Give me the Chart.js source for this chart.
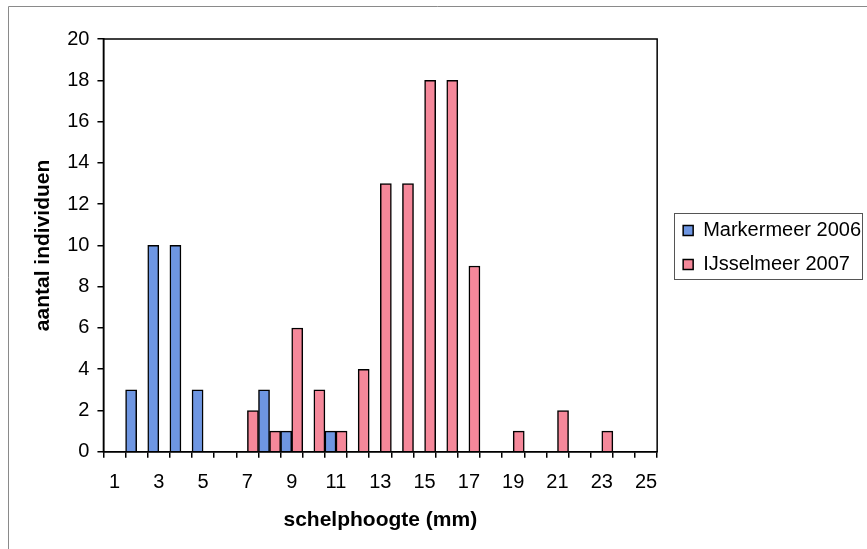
<!DOCTYPE html>
<html>
<head>
<meta charset="utf-8">
<script src="https://cdn.jsdelivr.net/npm/chart.js@4.4.1/dist/chart.umd.min.js"></script>
<style>
  html, body { margin: 0; padding: 0; background: #fff; }
  #wrap { width: 867px; height: 549px; position: relative; }
</style>
</head>
<body>
<div id="wrap"><canvas id="shellChart" width="867" height="549"></canvas></div>
<script>
// shell height classes (mm)
var sizes = ['1','2','3','4','5','6','7','8','9','10','11','12','13','14','15','16','17','18','19','20','21','22','23','24','25'];
// counts per class
var markermeer2006 = [0,3,10,10,3,0,0,3,1,0,1,0,0,0,0,0,0,0,0,0,0,0,0,0,0];
var ijsselmeer2007 = [0,0,0,0,0,0,2,1,6,3,1,4,13,13,18,18,9,0,1,0,2,0,1,0,0];
var yTicks = [0,2,4,6,8,10,12,14,16,18,20];

var FONT = "'Liberation Sans', Arial, sans-serif";

// frame round plot area, outer frame lines and the legend box
var framePlugin = {
        id: 'framePlugin',
        afterLayout: function (chart) {
                // push the legend a bit away from the plot
                chart.legend.left += 12;
                chart.legend.right += 12;
                chart.legend.top += 2;
                chart.legend.bottom += 2;
        },
        afterDraw: function (chart) {
                var c = chart.ctx;
                var a = chart.chartArea;
                c.save();
                // outer chart frame (only top/left visible in the scan)
                c.strokeStyle = '#8a8a8a';
                c.lineWidth = 1;
                c.beginPath();
                c.moveTo(8.5, 549);
                c.lineTo(8.5, 6.5);
                c.lineTo(867, 6.5);
                c.stroke();
                // plot box
                c.strokeStyle = '#000';
                c.lineWidth = 1.5;
                c.strokeRect(a.left, a.top, a.right - a.left, a.bottom - a.top);
                // legend box
                var boxes = chart.legend.legendHitBoxes;
                if (boxes && boxes.length) {
                        var l = Math.min.apply(null, boxes.map(function (b) { return b.left; }));
                        var t = Math.min.apply(null, boxes.map(function (b) { return b.top; }));
                        var b2 = Math.max.apply(null, boxes.map(function (b) { return b.top + b.height; }));
                        c.strokeStyle = '#555';
                        c.lineWidth = 1;
                        c.strokeRect(Math.round(l) - 8.5, Math.round(t) - 6.5, 188, Math.round(b2 - t) + 12);
                }
                c.restore();
        }
};

var ctx = document.getElementById('shellChart').getContext('2d');
var shellChart = new Chart(ctx, {
        type: 'bar',
        data: {
                labels: sizes,
                datasets: [
                        {
                                label: 'Markermeer 2006',
                                data: markermeer2006,
                                backgroundColor: '#6E96E2',
                                borderColor: '#000',
                                borderWidth: 1.5,
                                borderSkipped: 'bottom'
                        },
                        {
                                label: 'IJsselmeer 2007',
                                data: ijsselmeer2007,
                                backgroundColor: '#F5889A',
                                borderColor: '#000',
                                borderWidth: 1.5,
                                borderSkipped: 'bottom'
                        }
                ]
        },
        options: {
                responsive: false,
                animation: false,
                layout: { padding: { left: 31, right: 8, top: 39, bottom: 16 } },
                datasets: { bar: { categoryPercentage: 1.0, barPercentage: 1.0 } },
                plugins: {
                        tooltip: { enabled: false },
                        legend: {
                                position: 'right',
                                fullSize: false,
                                labels: {
                                        font: { family: FONT, size: 20 },
                                        color: '#000',
                                        boxWidth: 10,
                                        boxHeight: 10,
                                        padding: 14
                                }
                        }
                },
                scales: {
                        x: {
                                grid: { drawOnChartArea: false, color: '#000', tickLength: 6, lineWidth: 1.5 },
                                border: { color: '#000', width: 1.5 },
                                ticks: {
                                        autoSkip: false,
                                        maxRotation: 0,
                                        color: '#000',
                                        padding: 13,
                                        font: { family: FONT, size: 20 },
                                        callback: function (value, index) {
                                                return index % 2 === 0 ? sizes[index] : '';
                                        }
                                },
                                title: {
                                        display: true,
                                        text: 'schelphoogte (mm)',
                                        color: '#000',
                                        font: { family: FONT, size: 21, weight: 'bold' },
                                        padding: { top: 0, bottom: 0 }
                                }
                        },
                        y: {
                                min: 0,
                                max: 20,
                                afterBuildTicks: function (axis) {
                                        axis.ticks = yTicks.map(function (v) { return { value: v }; });
                                },
                                grid: { drawOnChartArea: false, color: '#000', tickLength: 6, lineWidth: 1.5 },
                                border: { color: '#000', width: 1.5 },
                                ticks: {
                                        color: '#000',
                                        padding: 8,
                                        font: { family: FONT, size: 20 }
                                },
                                title: {
                                        display: true,
                                        text: 'aantal individuen',
                                        color: '#000',
                                        font: { family: FONT, size: 21, weight: 'bold' },
                                        padding: { top: 0, bottom: 3 }
                                }
                        }
                }
        },
        plugins: [framePlugin]
});
</script>
</body>
</html>
